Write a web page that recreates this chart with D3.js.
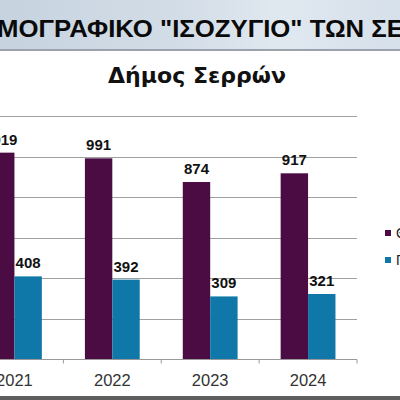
<!DOCTYPE html>
<html>
<head>
<meta charset="utf-8">
<script src="https://cdn.jsdelivr.net/npm/d3@7"></script>
<style>
  body { margin: 0; background: #fff; }
  svg { display: block; font-family: "Liberation Sans", Arial, sans-serif; }
</style>
</head>
<body>
<svg id="chart" width="400" height="400"></svg>
<script>
// data
const years = ["2021", "2022", "2023", "2024"];
const seriesNames = ["Θάνατοι", "Γεννήσεις"];
const deaths = [1019, 991, 874, 917];
const births = [408, 392, 309, 321];
const yTicks = [0, 200, 400, 600, 800, 1000, 1200];

const colors = ["#4b0b43", "#0f78a8"];

const svg = d3.select("#chart");
const width = 400, height = 400;

function measure(str, size, family) {
  const t = svg.append("text").attr("font-size", size).attr("font-weight", "bold").text(str);
  if (family) t.attr("font-family", family);
  const w = t.node().getComputedTextLength();
  t.remove();
  return w;
}

// banner at the top (cut-off slide header)
const defs = svg.append("defs");
const grad = defs.append("linearGradient").attr("id", "banner").attr("x1", 0).attr("x2", 1).attr("y1", 0).attr("y2", 0);
grad.append("stop").attr("offset", "0%").attr("stop-color", "#c6d3df");
grad.append("stop").attr("offset", "45%").attr("stop-color", "#d3dde7");
grad.append("stop").attr("offset", "70%").attr("stop-color", "#e0e8f0");
grad.append("stop").attr("offset", "100%").attr("stop-color", "#d6e0ea");
svg.append("rect").attr("x", 0).attr("y", 0).attr("width", width).attr("height", 50).attr("fill", "url(#banner)");
svg.append("rect").attr("x", 0).attr("y", 49).attr("width", width).attr("height", 2).attr("fill", "#9aa3ab");

const bannerText = "ΔΗΜΟΓΡΑΦΙΚΟ \"ΙΣΟΖΥΓΙΟ\" ΤΩΝ ΣΕΡΡΩΝ";
const bannerSize = 23;
// the visible span "ΜΟ ... Σ" runs from the left edge to about x = 387
const prefixW = measure("ΔΗ", bannerSize);
const visibleW = measure("ΜΟΓΡΑΦΙΚΟ \"ΙΣΟΖΥΓΙΟ\" ΤΩΝ Σ", bannerSize);
const sx = 390 / visibleW;
svg.append("text")
  .attr("transform", `translate(-3,37) scale(${sx},1)`)
  .attr("x", -prefixW)
  .attr("font-size", bannerSize)
  .attr("font-weight", "bold")
  .attr("fill", "#0a0a0a")
  .text(bannerText);

// chart title, sized so it spans about 178px
const titleFamily = "'DejaVu Sans', Verdana, sans-serif";
const titleSize = 20 * 178 / measure("Δήμος Σερρών", 20, titleFamily);
svg.append("text")
  .attr("x", 197)
  .attr("y", 83)
  .attr("text-anchor", "middle")
  .attr("font-family", titleFamily)
  .attr("font-size", titleSize)
  .attr("font-weight", "bold")
  .attr("fill", "#111")
  .text("Δήμος Σερρών");

// plot area
const plotLeft = -34.5, plotRight = 357, plotTop = 116, plotBottom = 359;

const x0 = d3.scaleBand().domain(years).range([plotLeft, plotRight]).paddingInner(0.44).paddingOuter(0.22);
const x1 = d3.scaleBand().domain(seriesNames).range([0, x0.bandwidth()]).padding(0);
const y = d3.scaleLinear().domain([0, 1200]).range([plotBottom, plotTop]);

// gridlines
svg.append("g").selectAll("line")
  .data(yTicks.filter(d => d > 0))
  .join("line")
  .attr("x1", plotLeft).attr("x2", plotRight)
  .attr("y1", d => Math.round(y(d)) + 0.5).attr("y2", d => Math.round(y(d)) + 0.5)
  .attr("stroke", "#a0a0a0").attr("stroke-width", 1);

// bars
const groups = svg.append("g").selectAll("g")
  .data(years.map((yr, i) => ({ year: yr, values: [deaths[i], births[i]] })))
  .join("g")
  .attr("transform", d => `translate(${x0(d.year)},0)`);

groups.selectAll("rect")
  .data(d => d.values.map((v, j) => ({ name: seriesNames[j], value: v, idx: j })))
  .join("rect")
  .attr("x", d => x1(d.name))
  .attr("y", d => y(d.value))
  .attr("width", x1.bandwidth())
  .attr("height", d => plotBottom - y(d.value))
  .attr("fill", d => colors[d.idx]);

groups.selectAll("text")
  .data(d => d.values.map((v, j) => ({ name: seriesNames[j], value: v })))
  .join("text")
  .attr("x", d => x1(d.name) + x1.bandwidth() / 2)
  .attr("y", d => y(d.value) - 8)
  .attr("text-anchor", "middle")
  .attr("font-size", 15)
  .attr("font-weight", "bold")
  .attr("fill", "#111")
  .text(d => d.value);

// x axis
const xAxis = svg.append("g").attr("transform", `translate(0,${plotBottom + 0.5})`);
xAxis.append("line").attr("x1", plotLeft).attr("x2", plotRight).attr("stroke", "#999");
xAxis.selectAll(".tick")
  .data(years)
  .join("line")
  .attr("x1", d => x0(d) + x0.bandwidth() / 2 + x0.step() / 2)
  .attr("x2", d => x0(d) + x0.bandwidth() / 2 + x0.step() / 2)
  .attr("y1", 0).attr("y2", 4)
  .attr("stroke", "#999");
xAxis.selectAll("text")
  .data(years)
  .join("text")
  .attr("x", d => x0(d) + x0.bandwidth() / 2)
  .attr("y", 26)
  .attr("text-anchor", "middle")
  .attr("font-size", 16.5)
  .attr("fill", "#333")
  .text(d => d);

// legend (cut at the right edge)
const legend = svg.append("g").selectAll("g")
  .data(seriesNames)
  .join("g")
  .attr("transform", (d, i) => `translate(385,${230 + i * 27})`);
legend.append("rect").attr("width", 6).attr("height", 6).attr("fill", (d, i) => colors[i]);
legend.append("text").attr("x", 11).attr("y", 8).attr("font-size", 14).attr("fill", "#222").text(d => d);

// bottom frame edge
svg.append("rect").attr("x", 0).attr("y", 396).attr("width", width).attr("height", 4).attr("fill", "#5e5e5e");
</script>
</body>
</html>
